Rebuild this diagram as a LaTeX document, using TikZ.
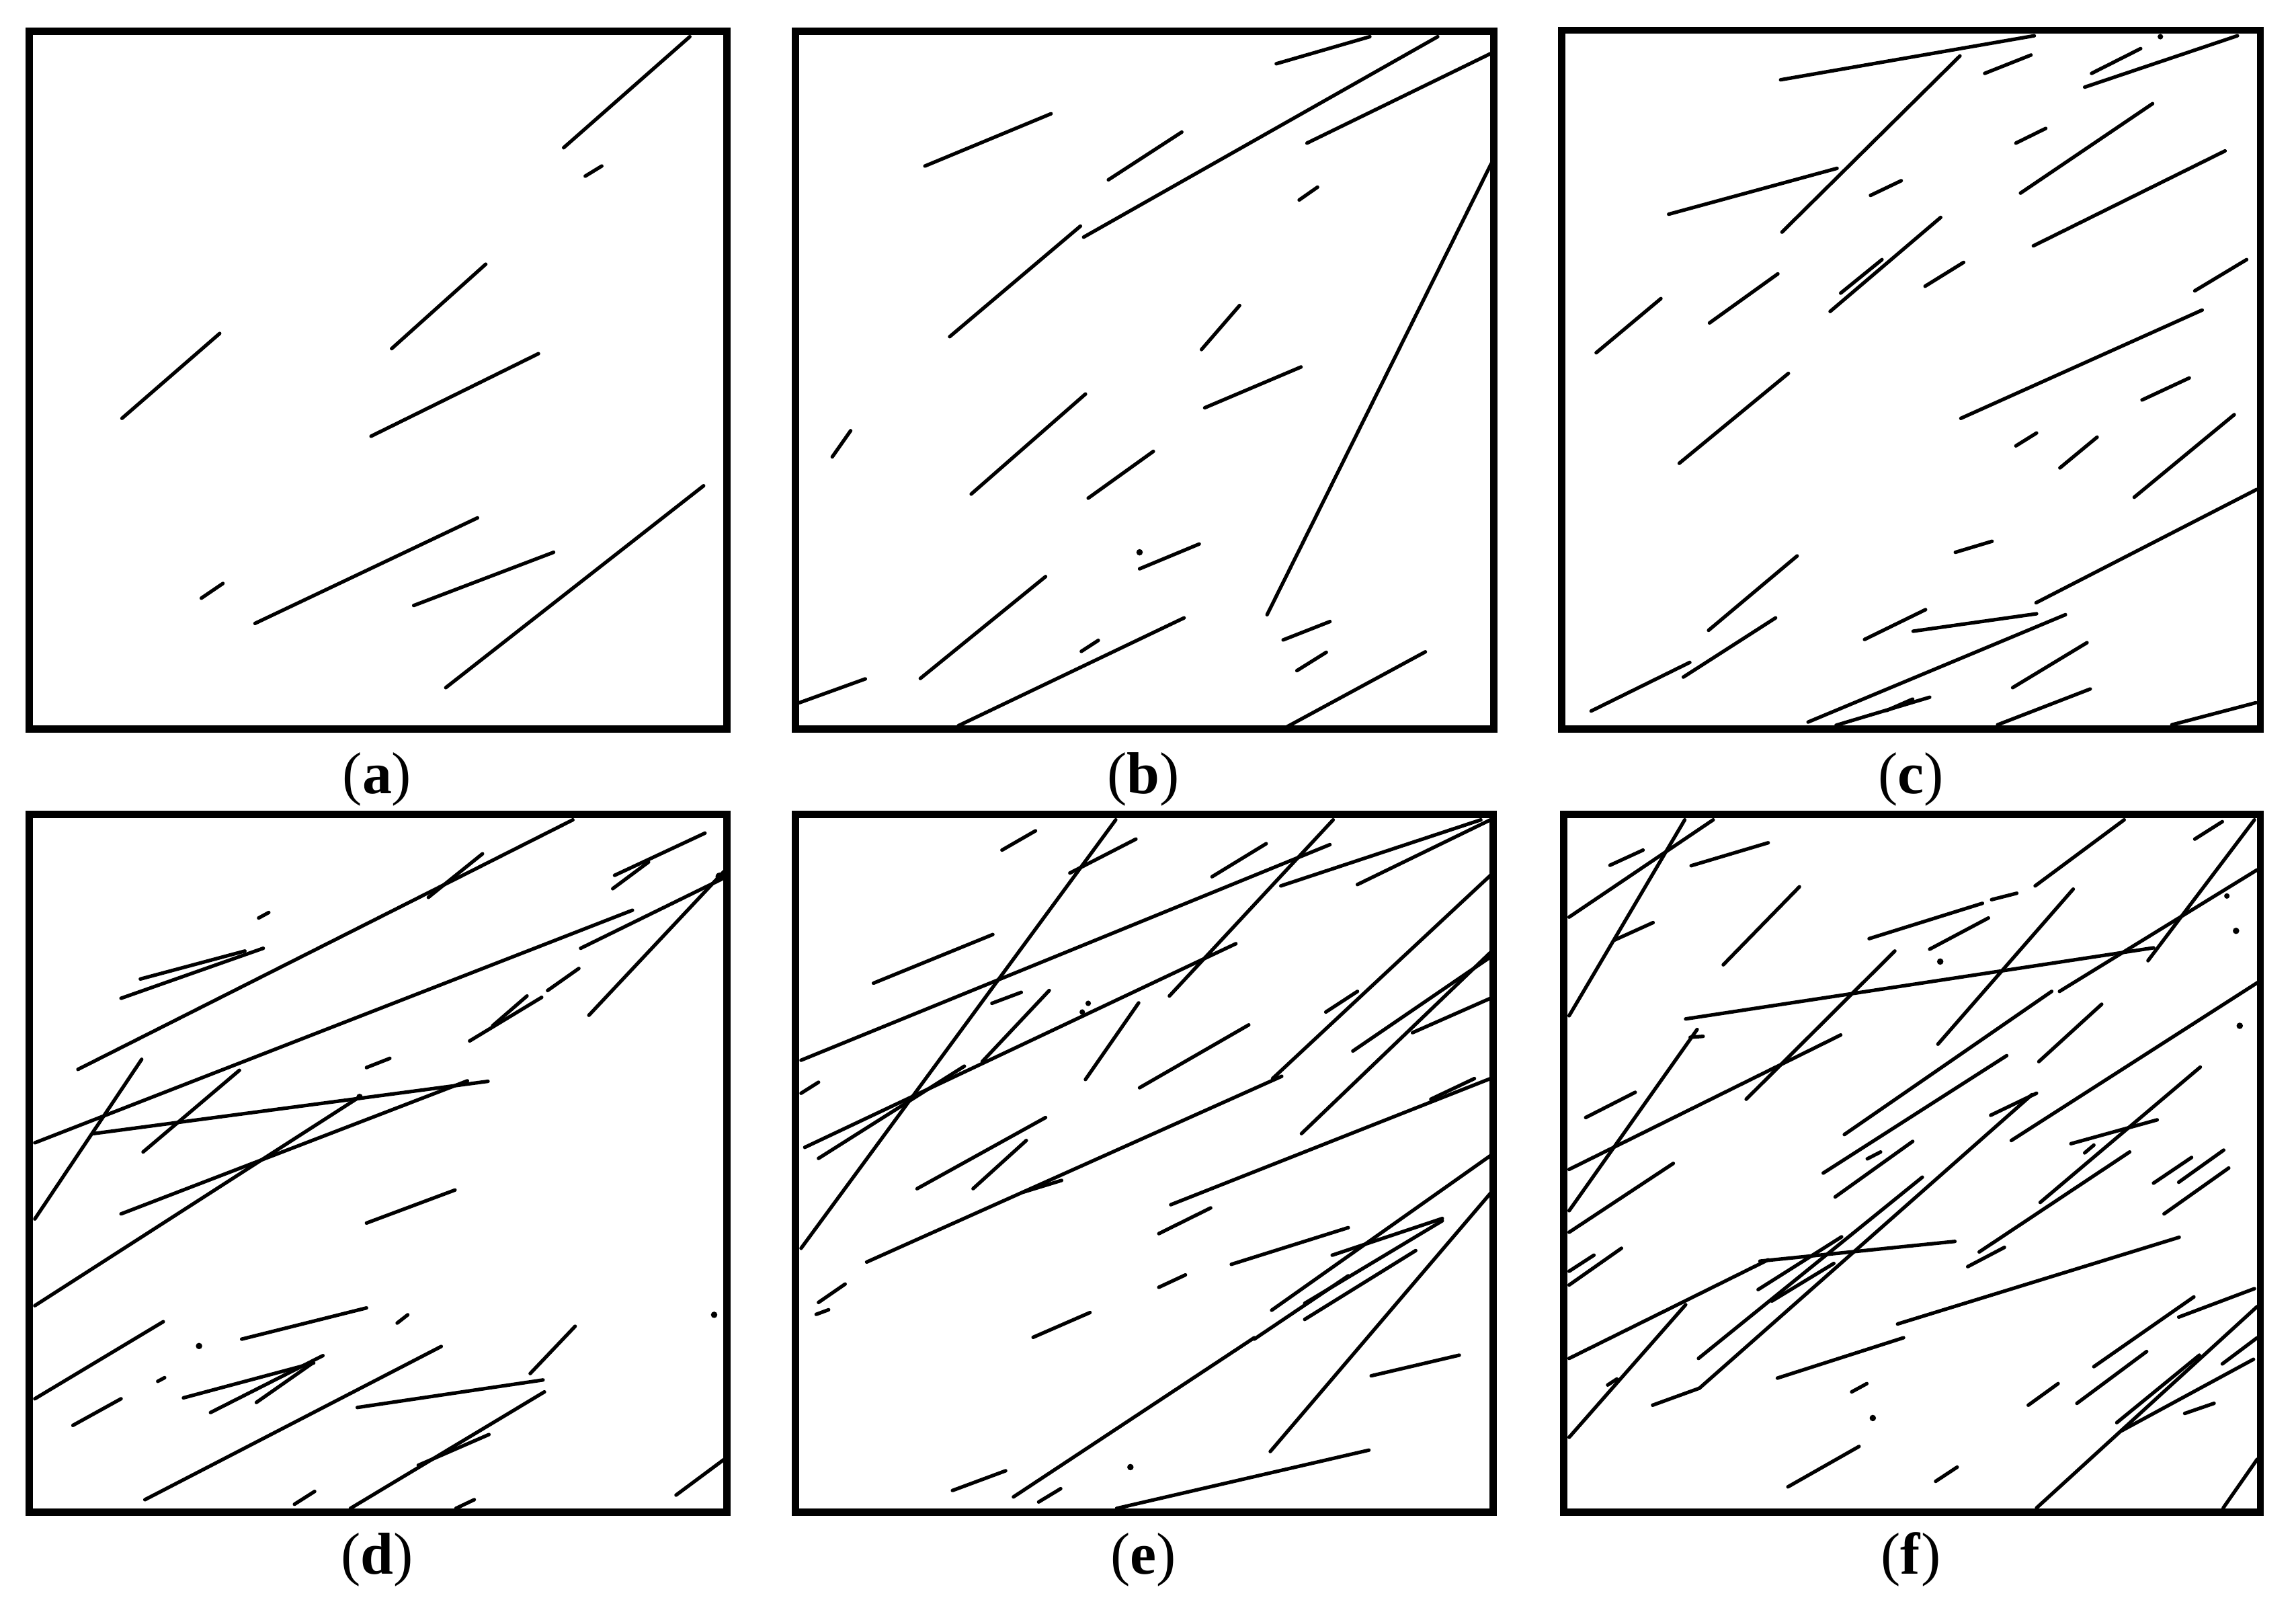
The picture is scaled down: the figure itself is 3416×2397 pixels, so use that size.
\documentclass[tikz,border=0pt]{standalone}
\usepackage{fontspec}
\setmainfont{Liberation Serif}
\begin{document}
\begin{tikzpicture}[x=0.01cm,y=-0.01cm,
  seg/.style={line width=1.5pt,line cap=round,black},
  frame/.style={line width=3.1pt,black},
  lab/.style={font=\fontsize{25}{30}\selectfont,inner sep=0pt},
  pan/.style={scale=0.6824}]
\useasboundingbox[fill=white] (0,0) rectangle (3416,2397);
% (a)
\begin{scope}[shift={(30,30)},pan]
\draw[frame] (20,24) rectangle (1541,1545);
\foreach \a/\b/\c/\d in {1185/278/1460/36,1232/340/1268/318,810/716/1015/532,222/868/435/683,765/907/1130/727,395/1260/442/1228,512/1315/997/1085,858/1276/1163/1160,928/1455/1490/1015}
  \draw[seg] (\a,\b) -- (\c,\d);
\end{scope}
% (b)
\begin{scope}[shift={(1170,30)},pan]
\draw[frame] (20,24) rectangle (1542,1545);
\foreach \a/\b/\c/\d in {1068/95/1272/36,648/473/1420/36,1135/268/1535/73,302/318/577/204,702/348/862/244,1118/392/1158/364,356/690/641/449,1048/1296/1537/312,905/718/988/622,912/845/1122/756,100/952/140/895,403/1033/652/815,658/1042/800/940,770/1196/900/1142,292/1435/565/1213,643/1376/680/1352,375/1538/867/1303,28/1488/172/1436,1083/1351/1185/1311,1113/1418/1177/1378,1092/1540/1393/1377}
  \draw[seg] (\a,\b) -- (\c,\d);
\fill (770,1160) circle (7);
\end{scope}
% (c)
\begin{scope}[shift={(2310,30)},pan]
\draw[frame] (20,22) rectangle (1543,1545);
\foreach \a/\b/\c/\d in {497/130/1050/34,500/462/888/78,942/116/1043/76,1175/116/1282/62,1160/146/1493/34,1010/268/1075/236,1020/377/1308/182,253/423/620/323,693/382/760/350,1048/492/1466/285,605/635/846/430,628/595/718/522,812/580/896/528,95/725/236/607,342/660/491/553,1400/590/1513/522,890/868/1416/632,1285/828/1388/780,276/966/514/770,1010/928/1055/900,1106/976/1187/909,1268/1040/1486/860,1054/1270/1535/1023,878/1160/958/1136,340/1330/533/1168,285/1432/486/1303,84/1506/299/1400,680/1350/813/1285,786/1332/1055/1294,557/1530/1118/1296,618/1537/822/1476,728/1505/785/1480,1003/1455/1165/1357,970/1536/1172/1458,1350/1536/1533/1488}
  \draw[seg] (\a,\b) -- (\c,\d);
\fill (1325,36) circle (6);
\end{scope}
% (d)
\begin{scope}[shift={(30,1195)},pan]
\draw[frame] (20,24) rectangle (1541,1545);
\foreach \a/\b/\c/\d in {126/580/1205/36,890/205/1008/110,1292/186/1370/128,1296/157/1493/65,520/250/542/238,220/425/530/316,262/383/490/322,32/740/1335/233,1222/316/1530/165,1240/462/1535/148,1150/408/1218/360,980/518/1137/423,1030/485/1105/420,755/576/806/556,32/906/265/558,268/760/478/582,160/720/1020/606,32/1095/740/640,220/895/975/605,755/915/948/843,32/1298/312/1130,483/1168/755/1100,822/1133/845/1115,300/1260/315/1252,115/1356/220/1298,356/1296/640/1220,415/1328/660/1204,515/1306/635/1222,272/1518/918/1184,735/1317/1140/1257,1112/1243/1210/1140,720/1537/1143/1283,868/1443/1022/1376,598/1528/642/1500,950/1537/990/1518,1430/1508/1535/1430}
  \draw[seg] (\a,\b) -- (\c,\d);
\fill (390,1183) circle (7);
\fill (1513,1115) circle (7);
\fill (740,640) circle (7);
\fill (1525,160) circle (9);
\end{scope}
% (e)
\begin{scope}[shift={(1170,1195)},pan]
\draw[frame] (20,24) rectangle (1541,1545);
\foreach \a/\b/\c/\d in {32/970/718/36,835/420/1192/36,470/102/543/60,618/152/762/78,928/160/1046/88,1078/180/1514/36,1245/177/1535/36,32/560/1185/90,190/392/450/286,448/436/512/412,427/563/573/408,40/750/980/306,70/774/388/573,32/632/70/608,652/602/768/435,770/620/1008/483,1176/455/1245/410,1060/600/1535/157,175/1000/1080/595,1235/540/1535/335,1123/720/1535/325,1365/500/1535/425,285/840/565/685,407/840/523/735,515/848/600/822,838/875/1535/600,1405/645/1500/600,812/938/925/882,970/1005/1225/925,1190/985/1430/905,70/1088/128/1048,65/1114/92/1104,812/1055/870/1028,1058/1105/1535/768,1130/1125/1372/975,1020/1168/1225/1030,1130/1090/1430/910,538/1164/662/1110,495/1512/1020/1165,1055/1413/1535/850,1275/1248/1467/1203,362/1498/478/1455,550/1523/598/1494,720/1537/1270/1410}
  \draw[seg] (\a,\b) -- (\c,\d);
\fill (645,455) circle (6);
\fill (658,436) circle (6);
\fill (750,1447) circle (7);
\end{scope}
% (f)
\begin{scope}[shift={(2310,1195)},pan]
\draw[frame] (24,24) rectangle (1543,1545);
\foreach \a/\b/\c/\d in {36/463/288/36,36/248/350/36,125/135/197/102,302/136/470/86,135/298/219/260,372/352/538/182,1052/180/1246/36,1400/78/1460/40,1298/343/1530/36,957/210/1012/196,690/295/937/218,822/318/950/250,290/470/1310/315,840/525/1135/187,1105/410/1536/145,36/888/315/493,300/510/328/508,422/645/746/322,36/798/628/505,72/685/180/630,636/722/1088/410,590/806/990/550,1060/563/1197/438,1000/735/1538/390,955/680/1055/632,36/935/263/785,36/1020/90/985,36/1050/150/970,686/775/715/760,616/858/785/737,1130/742/1318/690,1160/762/1180/745,1063/870/1412/575,930/978/1258/760,905/1010/985/968,1310/828/1393/772,1365/826/1463/756,1333/895/1474/795,36/1210/470/995,452/998/877/955,752/1135/1366/946,36/1382/290/1093,120/1268/140/1255,218/1312/320/1275,320/1275/1045/635,318/1210/806/815,478/1085/613/1003,448/1060/630/945,490/1253/765/1165,652/1283/685/1265,513/1490/668/1402,835/1478/882/1447,1037/1312/1102/1265,1143/1308/1295/1195,1180/1228/1398/1076,1365/1120/1530/1058,1055/1536/1536/1097,1230/1350/1410/1203,1240/1368/1528/1212,1460/1222/1536/1165,1378/1330/1442/1308,1462/1536/1536/1430}
  \draw[seg] (\a,\b) -- (\c,\d);
\fill (845,345) circle (7);
\fill (1490,278) circle (7);
\fill (1470,202) circle (6);
\fill (1498,485) circle (7);
\fill (698,1340) circle (7);
\end{scope}
% labels
\node[lab] (la) at (561,1159) {(\textbf{a})};
\node[lab] (lb) at (1701,1159) {(\textbf{b})};
\node[lab] (lc) at (2843,1159) {(\textbf{c})};
\node[lab] (ld) at (561,2320) {(\textbf{d})};
\node[lab] (le) at (1701,2320) {(\textbf{e})};
\node[lab] (lf) at (2843,2320) {(\textbf{f})};
\end{tikzpicture}
\end{document}
